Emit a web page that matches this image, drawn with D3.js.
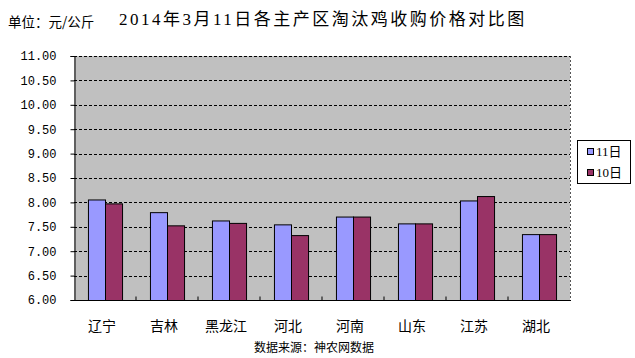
<!DOCTYPE html>
<html><head><meta charset="utf-8">
<script src="https://cdn.jsdelivr.net/npm/d3@7"></script>
<style>body{margin:0;background:#fff}svg{display:block}</style>
</head><body>
<script>
const categories = ["辽宁","吉林","黑龙江","河北","河南","山东","江苏","湖北"];
const seriesNames = ["11日","10日"];
const values11 = [8.06, 7.80, 7.63, 7.55, 7.71, 7.57, 8.04, 7.35];
const values10 = [7.98, 7.53, 7.58, 7.33, 7.71, 7.57, 8.13, 7.35];
const yTicks = [6.00,6.50,7.00,7.50,8.00,8.50,9.00,9.50,10.00,10.50,11.00];
const colors = ["#9999FF","#993366"];

const W=635,H=358;
const svg=d3.select("body").append("svg").attr("width",W).attr("height",H);
const m={l:74,r:570,t:56,b:300};
const x=d3.scaleBand().domain(categories).range([m.l,m.r]).paddingInner(0.45).paddingOuter(0.225);
const xs=d3.scaleBand().domain(seriesNames).range([0,x.bandwidth()]);
const y=d3.scaleLinear().domain([6,11]).range([m.b,m.t]);

svg.append("rect").attr("x",m.l).attr("y",m.t).attr("width",m.r-m.l).attr("height",m.b-m.t).attr("fill","#C0C0C0");
svg.append("g").selectAll("line").data(yTicks.slice(1)).join("line")
 .attr("x1",m.l).attr("x2",m.r).attr("y1",d=>Math.round(y(d))+0.5).attr("y2",d=>Math.round(y(d))+0.5)
 .attr("stroke","#000").attr("stroke-dasharray","3,2");
svg.append("line").attr("x1",m.r+0.5).attr("x2",m.r+0.5).attr("y1",m.t).attr("y2",m.b).attr("stroke","#555").attr("stroke-dasharray","2,2");

const rows=categories.map((c,i)=>({c,v:[values11[i],values10[i]]}));
const g=svg.append("g");
rows.forEach(r=>{
  g.selectAll(null).data(r.v.map((v,j)=>({v,s:seriesNames[j],j}))).join("rect")
   .attr("x",d=>x(r.c)+xs(d.s)+0.5).attr("y",d=>y(d.v)+0.5)
   .attr("width",xs.bandwidth()).attr("height",d=>m.b-y(d.v))
   .attr("fill",d=>colors[d.j]).attr("stroke","#000").attr("stroke-width",1);
});

const ax=svg.append("g").attr("transform",`translate(0,${m.b+0.5})`);
ax.append("line").attr("x1",m.l).attr("x2",m.r+1).attr("stroke","#000");
ax.selectAll("line.t").data(categories.slice(1)).join("line").attr("class","t")
 .attr("x1",d=>x(d)-x.step()*x.paddingInner()/2).attr("x2",d=>x(d)-x.step()*x.paddingInner()/2)
 .attr("y1",0).attr("y2",-4).attr("stroke","#000");
svg.append("g").selectAll("text").data(categories).join("text")
 .attr("x",d=>x(d)+x.bandwidth()/2-3).attr("y",331)
 .attr("text-anchor","middle").attr("font-family","'Noto Sans CJK SC'").attr("font-size",14).text(d=>d);

const ya=d3.axisLeft(y).tickValues(yTicks).tickSize(4).tickFormat(d3.format(".2f"));
const yg=svg.append("g").attr("transform",`translate(${m.l+0.5},0)`).call(ya);
yg.select(".domain").attr("stroke","#000");
yg.selectAll("text").attr("font-family","'Liberation Mono',monospace").attr("font-size",12).attr("fill","#000").attr("x",-18);

const lg=svg.append("g");
lg.append("rect").attr("x",577.5).attr("y",140.5).attr("width",53).attr("height",43).attr("fill","#fff").attr("stroke","#000");
seriesNames.forEach((s,i)=>{
  lg.append("rect").attr("x",587.5).attr("y",148.5+i*21).attr("width",6).attr("height",6).attr("fill",colors[i]).attr("stroke","#000");
  lg.append("text").attr("x",596).attr("y",156+i*21).attr("font-family","'Liberation Serif','Noto Sans CJK SC'").attr("font-size",13).text(s);
});

svg.append("text").attr("x",8).attr("y",27).attr("font-family","'Noto Sans CJK SC'").attr("font-size",13.5).text("单位：元/公斤");
svg.append("text").attr("x",119).attr("y",25).attr("font-family","'Liberation Serif','Noto Sans CJK SC'").attr("font-size",17).attr("letter-spacing",2.5)
 .text("2014年3月11日各主产区淘汰鸡收购价格对比图");
svg.append("text").attr("x",314).attr("y",352).attr("text-anchor","middle").attr("font-family","'Noto Sans CJK SC'").attr("font-size",12).text("数据来源：神农网数据");
</script>
</body></html>
